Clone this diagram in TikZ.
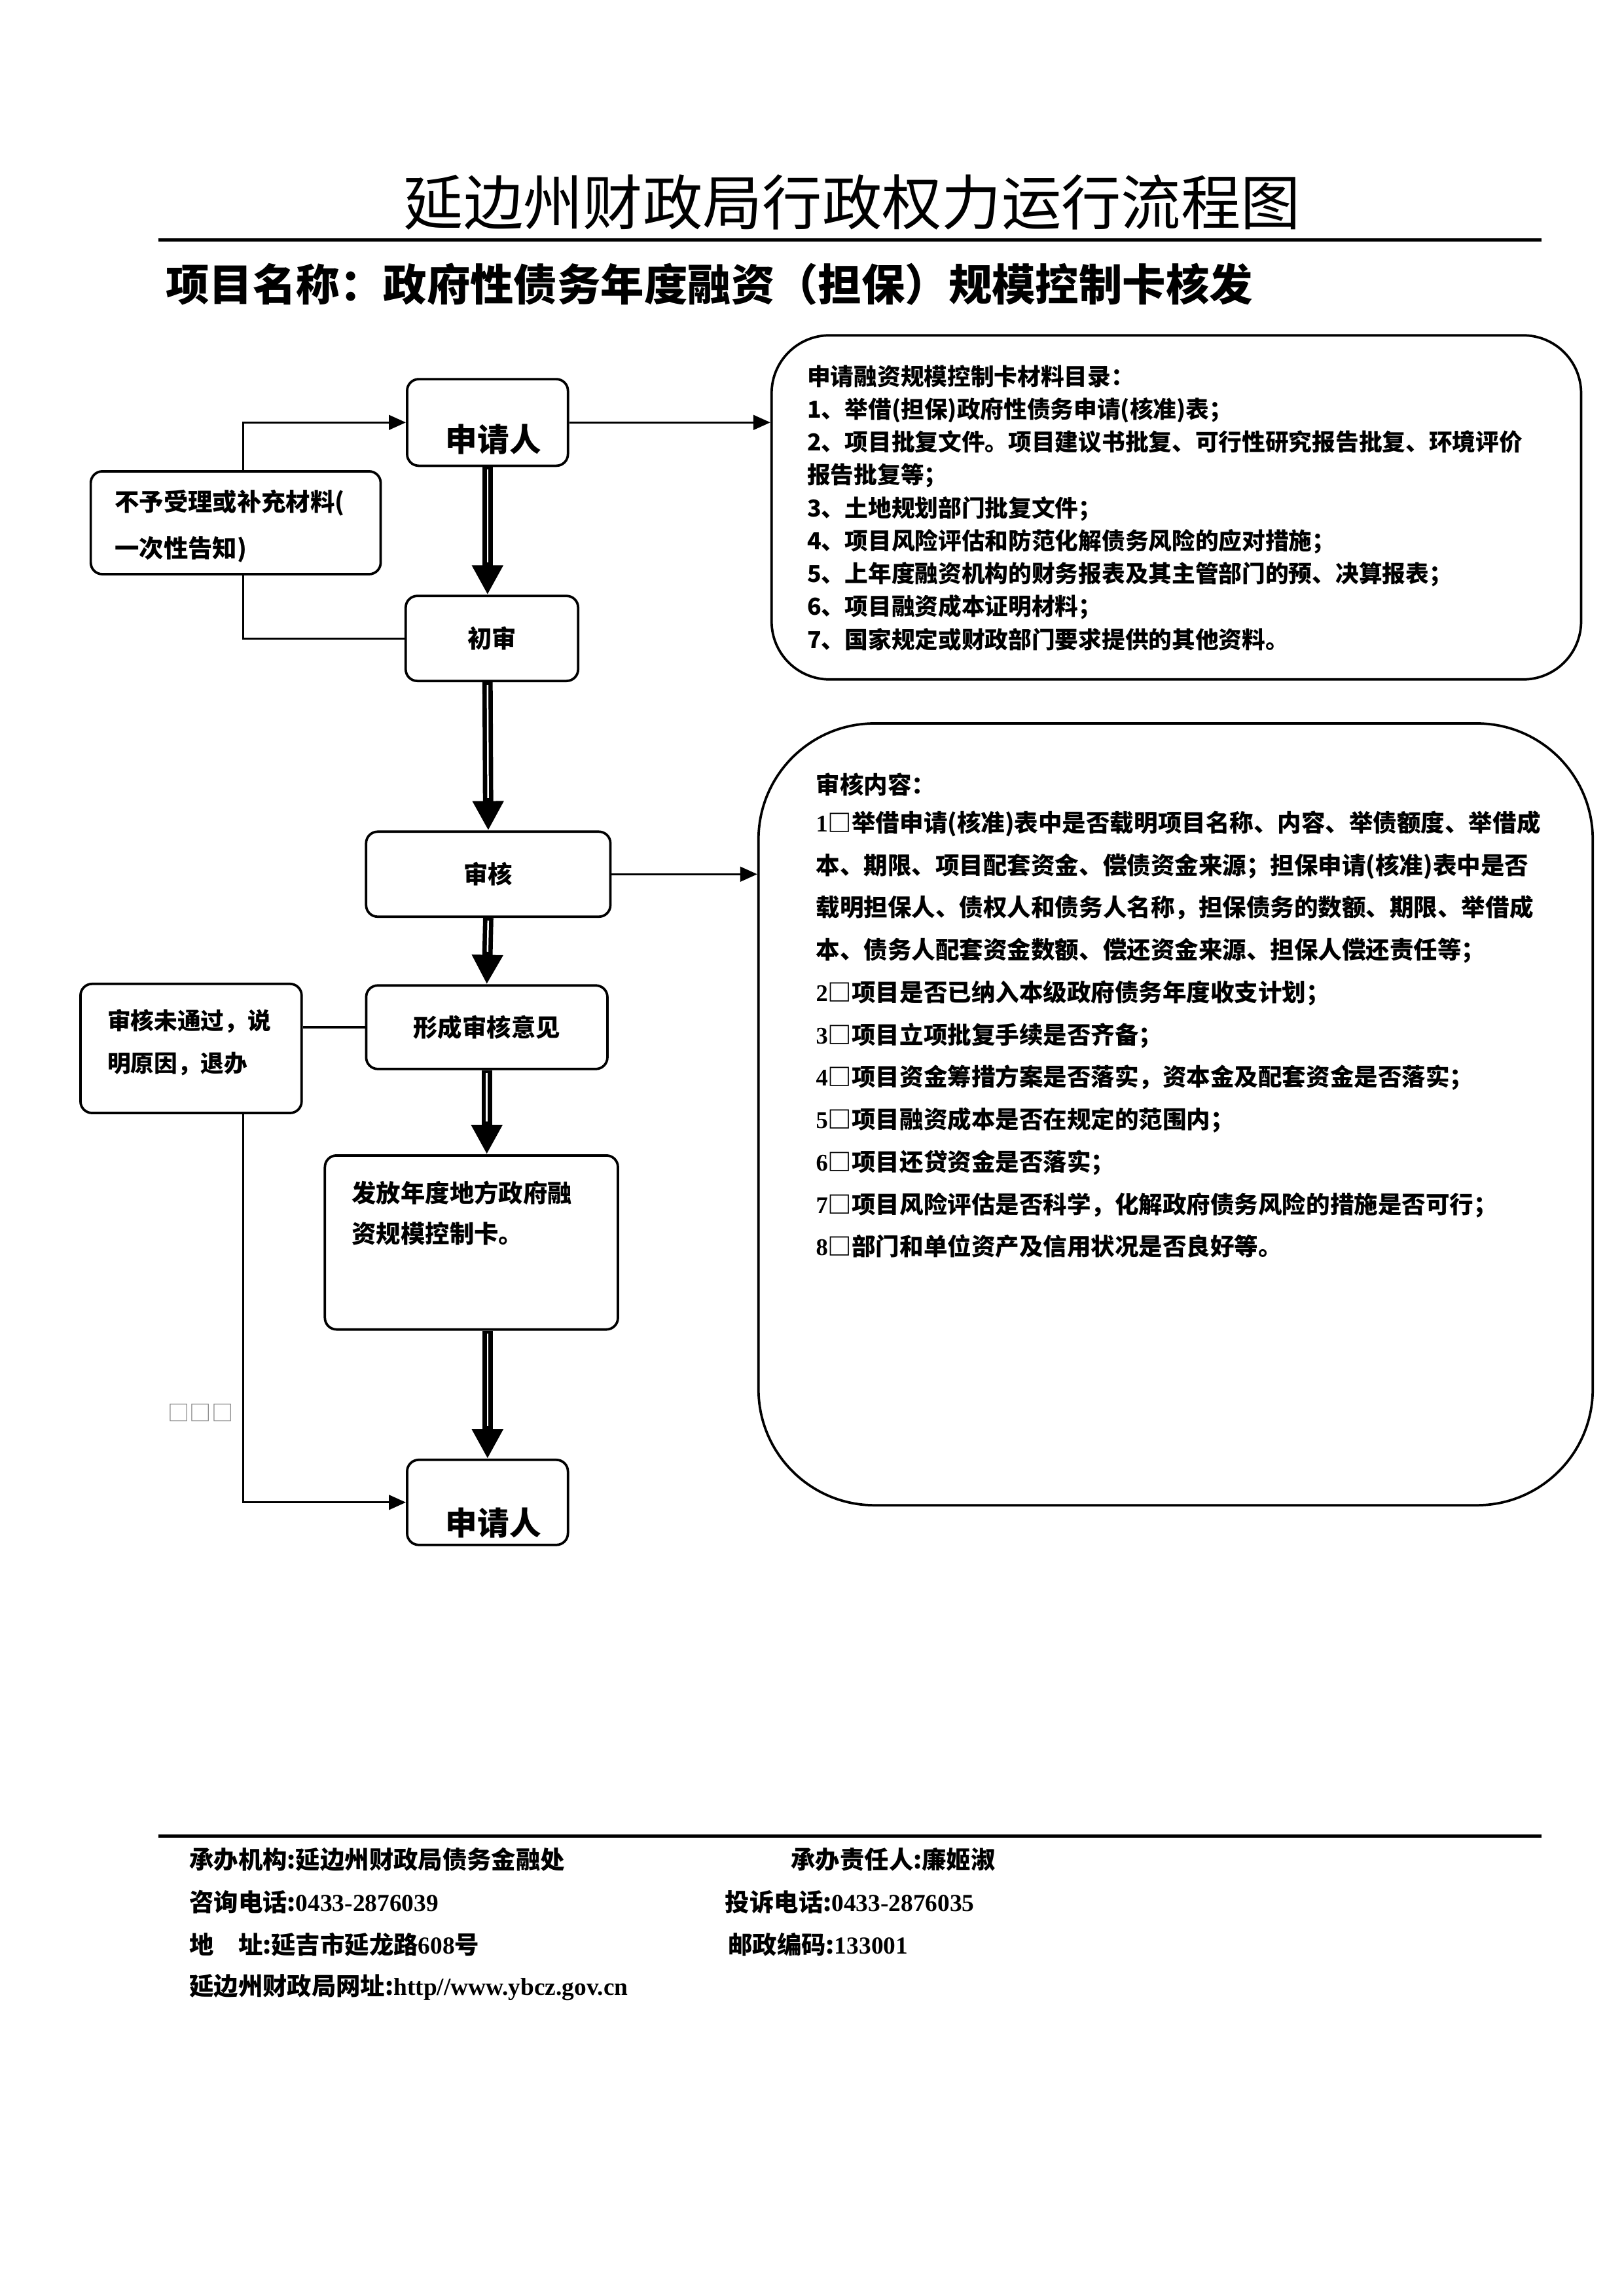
\documentclass[tikz,border=0pt]{standalone}
\usepackage{fontspec}
\setmainfont{Noto Sans CJK SC}
\newfontfamily\latin{Liberation Serif}[UprightFont={* Bold}, BoldFont={* Bold}]
\usetikzlibrary{arrows.meta}

\begin{document}
\begin{tikzpicture}[x=0.018936cm, y=-0.018936cm,
    box/.style={draw, line width=0.9pt, rounded corners=0.15cm, inner sep=0pt},
    bigbox/.style={draw, line width=0.9pt, inner sep=0pt},
    thin/.style={line width=0.8pt},
    tip/.style={-{Triangle[length=0.22cm, width=0.19cm]}},
    flow/.style={line width=3.8pt, -{Triangle[length=0.38cm, width=0.38cm]},
        postaction={draw=white, line width=0.6pt, -, shorten >=0.42cm, shorten <=1pt}},
    txt/.style={inner sep=0pt, font=\bfseries\fontsize{9}{12}\selectfont},
    foot/.style={anchor=west, inner sep=0pt, font=\bfseries\fontsize{9}{11}\selectfont}]
    \useasboundingbox (0,0) rectangle (1109,1568);

    % 标题与项目名称
    \node (title) at (582,138) {\fontsize{22}{26}\selectfont 延边州财政局行政权力运行流程图};
    \draw[line width=1.2pt] (108,164) -- (1053,164);
    \node[anchor=west, inner sep=0pt] (subtitle) at (113,194)
        {\bfseries\fontsize{16}{19}\selectfont 项目名称：政府性债务年度融资（担保）规模控制卡核发};

    % 中间流程框
    \node[box, minimum width=2.08cm, minimum height=1.12cm] (req1) at (333,288.5) {};
    \node[txt, font=\bfseries\fontsize{11.7}{14}\selectfont] (req1t) at (337,300) {申请人};
    \node[box, txt, minimum width=2.23cm, minimum height=1.10cm] (chu) at (336,436) {初审};
    \node[box, txt, minimum width=3.16cm, minimum height=1.10cm] (shenhe) at (333.5,597) {审核};
    \node[box, txt, minimum width=3.12cm, minimum height=1.08cm] (xingcheng) at (332.5,701.5) {形成审核意见};
    \node[box, minimum width=3.79cm, minimum height=2.25cm] (fafang) at (322,848.5) {};
    \node[txt, anchor=base west, text width=3.5cm, font=\bfseries\fontsize{9}{15}\selectfont] (fafangt) at (240,821)
        {发放年度地方政府融\\资规模控制卡。};
    \node[box, minimum width=2.08cm, minimum height=1.10cm] (req2) at (333,1026) {};
    \node[txt, font=\bfseries\fontsize{11.7}{14}\selectfont] (req2t) at (337,1040) {申请人};

    % 左侧退回框
    \node[box, minimum width=3.75cm, minimum height=1.33cm] (buyu) at (161,357) {};
    \node[txt, anchor=base west, text width=3.6cm, font=\bfseries\fontsize{9}{17.2}\selectfont] (buyut) at (78,349)
        {不予受理或补充材料(\\一次性告知)};
    \node[box, minimum width=2.86cm, minimum height=1.67cm] (weitong) at (130.5,716) {};
    \node[txt, anchor=base west, text width=2.6cm, font=\bfseries\fontsize{8.6}{15.6}\selectfont] (weitongt) at (73,703)
        {审核未通过，说\\明原因，退办};
    \coordinate (backx) at (166,0);
    \node[inner sep=0pt, text=gray, font=\fontsize{8}{10}\selectfont] (miss) at (137,965) {□□□};

    % 右侧说明框
    \node[bigbox, rounded corners=0.75cm, minimum width=10.47cm, minimum height=4.45cm] (list) at (803.5,346.5) {};
    \node[txt, anchor=base west, text width=10cm, align=left, font=\bfseries\fontsize{8.6}{12.1}\selectfont] (listt) at (551,263)
        {申请融资规模控制卡材料目录：\\
         1、举借(担保)政府性债务申请(核准)表；\\
         2、项目批复文件。项目建议书批复、可行性研究报告批复、环境评价\\
         报告批复等；\\
         3、土地规划部门批复文件；\\
         4、项目风险评估和防范化解债务风险的应对措施；\\
         5、上年度融资机构的财务报表及其主管部门的预、决算报表；\\
         6、项目融资成本证明材料；\\
         7、国家规定或财政部门要求提供的其他资料。};
    \node[bigbox, rounded corners=1.5cm, minimum width=10.79cm, minimum height=10.11cm] (check) at (803,761) {};
    \node[txt, anchor=base west, text width=10.3cm, align=left, font=\bfseries\fontsize{8.8}{15.6}\selectfont] (checkt) at (557,542)
        {审核内容：\\[-1.6pt]
         {\latin 1}□举借申请(核准)表中是否载明项目名称、内容、举债额度、举借成\\
         本、期限、项目配套资金、偿债资金来源；担保申请(核准)表中是否\\
         载明担保人、债权人和债务人名称，担保债务的数额、期限、举借成\\
         本、债务人配套资金数额、偿还资金来源、担保人偿还责任等；\\
         {\latin 2}□项目是否已纳入本级政府债务年度收支计划；\\
         {\latin 3}□项目立项批复手续是否齐备；\\
         {\latin 4}□项目资金筹措方案是否落实，资本金及配套资金是否落实；\\
         {\latin 5}□项目融资成本是否在规定的范围内；\\
         {\latin 6}□项目还贷资金是否落实；\\
         {\latin 7}□项目风险评估是否科学，化解政府债务风险的措施是否可行；\\
         {\latin 8}□部门和单位资产及信用状况是否良好等。};

    % 主流程箭头
    \draw[flow] (req1.south) -- (req1.south |- chu.north);
    \draw[flow] (req1.south |- chu.south) -- (shenhe.north);
    \draw[flow] (shenhe.south) -- (xingcheng.north);
    \draw[flow] (xingcheng.south) -- (xingcheng.south |- fafang.north);
    \draw[flow] (req2.north |- fafang.south) -- (req2.north);

    % 细线连接
    \draw[thin] (chu.west) -| (backx |- buyu.south);
    \draw[thin, tip] (backx |- buyu.north) |- (req1.west);
    \draw[thin, tip] (req1.east) -- (req1.east -| list.west);
    \draw[thin, tip] (shenhe.east) -- (shenhe.east -| check.west);
    \draw[thin] (xingcheng.west) -- (xingcheng.west -| weitong.east);
    \draw[thin, tip] (backx |- weitong.south) |- (req2.west);

    % 页脚
    \draw[line width=1.2pt] (108,1254) -- (1053,1254);
    \node[foot] (org) at (129,1270) {承办机构:延边州财政局债务金融处};
    \node[foot] (person) at (540,1270) {承办责任人:廉姬淑};
    \node[foot] (tel) at (129,1299) {咨询电话:{\latin 0433-2876039}};
    \node[foot] (comp) at (495,1299) {投诉电话:{\latin 0433-2876035}};
    \node[foot] (addr) at (129,1328) {地　址:延吉市延龙路{\latin 608}号};
    \node[foot] (post) at (497,1328) {邮政编码:{\latin 133001}};
    \node[foot] (web) at (129,1357) {延边州财政局网址:{\latin http//www.ybcz.gov.cn}};
\end{tikzpicture}
\end{document}
